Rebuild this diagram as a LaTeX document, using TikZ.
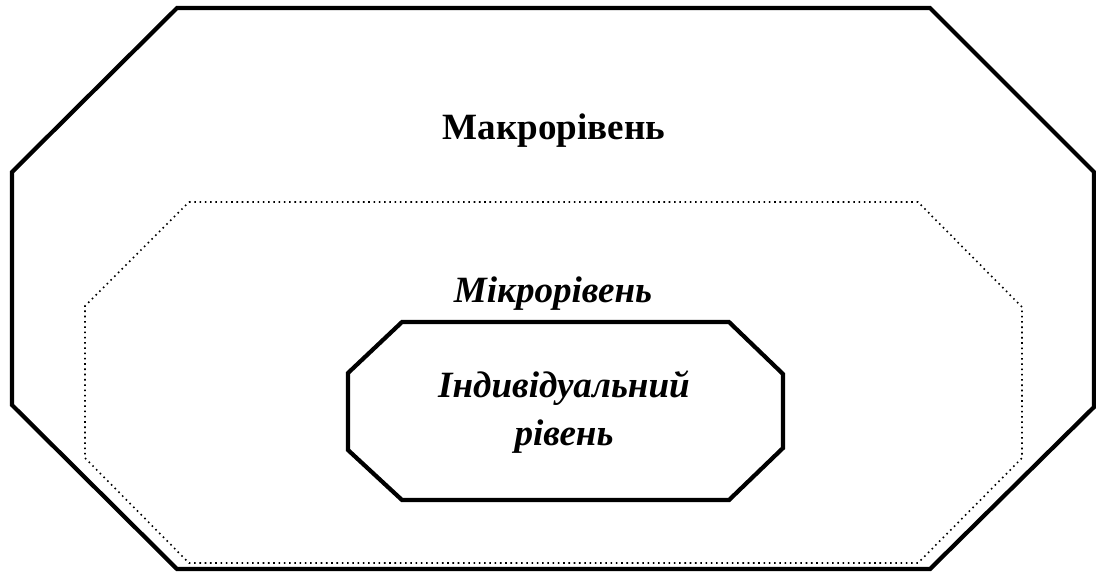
\documentclass[tikz,border=0pt]{standalone}
\usepackage{fontspec}
\setmainfont{Liberation Serif}
\usetikzlibrary{positioning}

\begin{document}
\begin{tikzpicture}[x=0.1mm, y=-0.1mm,
	levelname/.style={font=\fontsize{10.55}{13.6}\selectfont\bfseries, align=center, anchor=base, inner sep=0pt},
	solidframe/.style={line width=1.2pt, line join=miter},
	dottedframe/.style={line width=0.45pt, dash pattern=on 0.45pt off 1.05pt}]
	\useasboundingbox (0,0) rectangle (1096,573);
	% macro level
	\draw[solidframe] (177,8) -- (930,8) -- (1094,172) -- (1094,407) -- (930,569) -- (177,569) -- (12,405) -- (12,172) -- cycle;
	% micro level
	\draw[dottedframe] (189,202) -- (918,202) -- (1022,307) -- (1022,458) -- (918,563) -- (189,563) -- (85,458) -- (85,306) -- cycle;
	% individual level
	\draw[solidframe] (402,322) -- (729,322) -- (783,374) -- (783,448) -- (729,500) -- (402,500) -- (348,450) -- (348,373) -- cycle;
	\node[levelname] (macro) at (554,139) {Макрорівень};
	\node[levelname, font=\fontsize{10.55}{13.6}\selectfont\bfseries\itshape] (micro) at (553,302) {Мікрорівень};
	\node[levelname, font=\fontsize{10.55}{13.6}\selectfont\bfseries\itshape] (indiv) at (564,445) {Індивідуальний\\рівень};
\end{tikzpicture}
\end{document}
